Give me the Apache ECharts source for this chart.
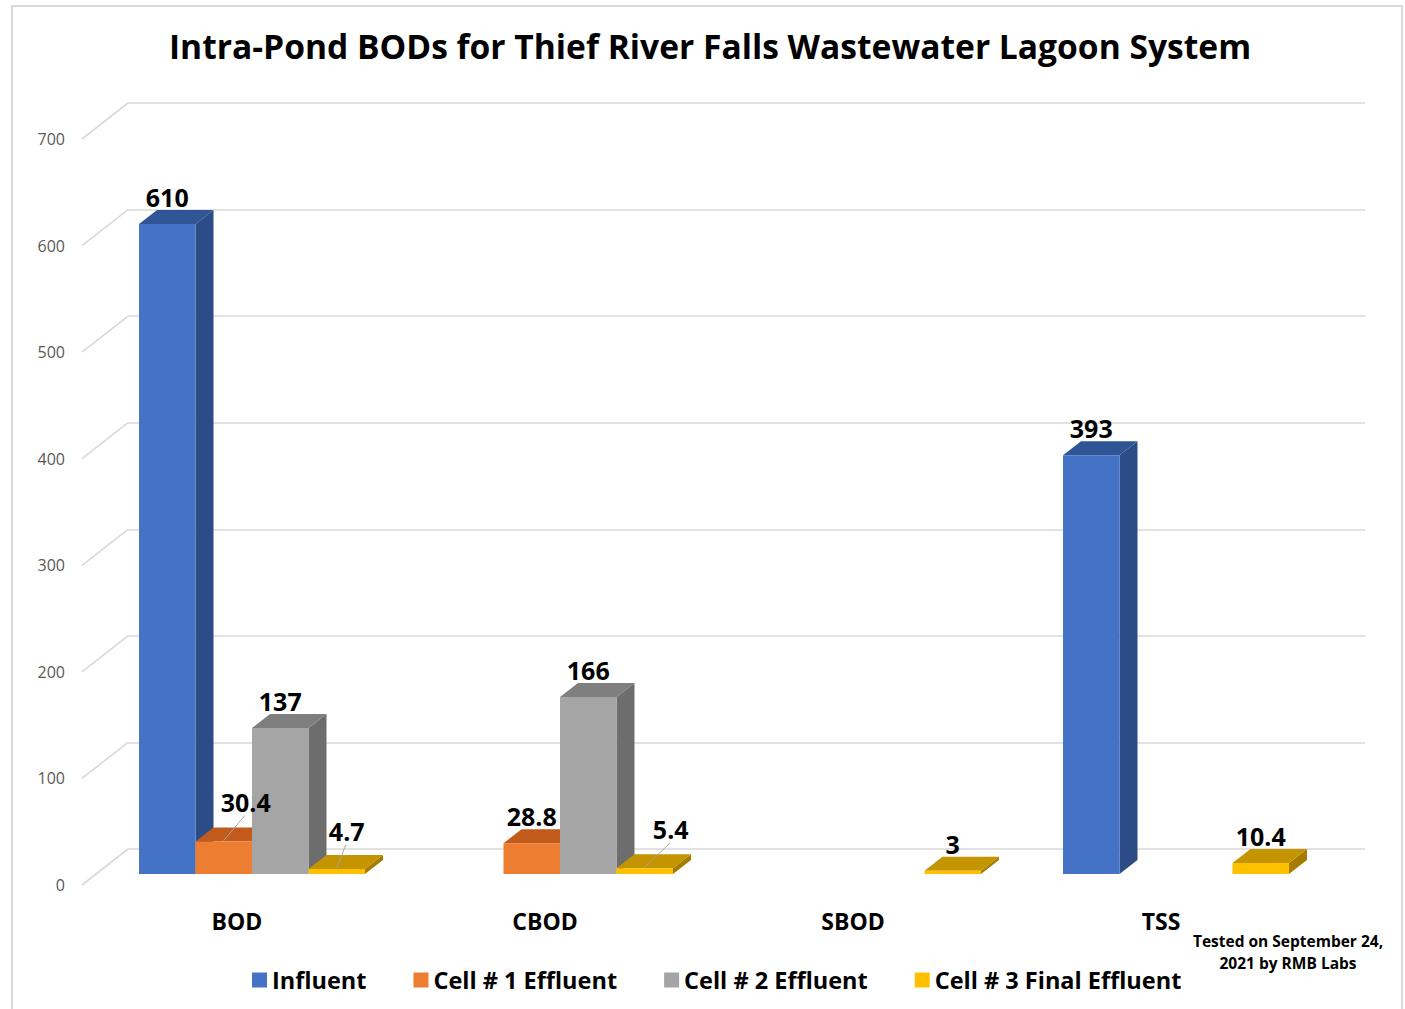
<!DOCTYPE html>
<html>
<head>
<meta charset="utf-8">
<script src="https://cdn.jsdelivr.net/npm/echarts@6/dist/echarts.min.js"></script>
<style>
html,body{margin:0;padding:0;background:#fff;}
#chart{width:1405px;height:1009px;}
</style>
</head>
<body>
<div id="chart"></div>
<script>
// ---------- data ----------
const categories = ['BOD', 'CBOD', 'SBOD', 'TSS'];
const seriesNames = ['Influent', 'Cell # 1 Effluent', 'Cell # 2 Effluent', 'Cell # 3 Final Effluent'];
const influent = [610, null, null, 393];
const cell1Effluent = [30.4, 28.8, null, null];
const cell2Effluent = [137, 166, null, null];
const cell3FinalEffluent = [4.7, 5.4, 3, 10.4];
const yTicks = [0, 100, 200, 300, 400, 500, 600, 700];
const titleText = 'Intra-Pond BODs for Thief River Falls Wastewater Lagoon System';
const noteText = 'Tested on September 24,\n2021 by RMB Labs';

// ---------- styles ----------
const FONT = '"Open Sans", "Liberation Sans", sans-serif';
const palette = [
  { front: '#4472C4', top: '#2F5597', side: '#2C4C87' },
  { front: '#ED7D31', top: '#C25A1C', side: '#A9541D' },
  { front: '#A5A5A5', top: '#7F7F7F', side: '#6D6D6D' },
  { front: '#FFC000', top: '#C49500', side: '#A67C00' }
];
const DEPTH_X = 18, DEPTH_Y = 14;      // oblique depth of each bar
const BAR_FRACTION = 0.1834;           // bar face width / category band
// label nudges for small bars (seriesIdx_catIdx) -> drawn with leader line
const labelNudge = { '1_0': [22, -13], '3_0': [10, -11], '3_1': [26, -12] };

const seriesData = [influent, cell1Effluent, cell2Effluent, cell3FinalEffluent];

function makeBarRenderer(s) {
  return function (params, api) {
    const cat = api.value(0);
    const v = api.value(1);
    if (v === null || v === undefined || isNaN(v)) return;
    const band = api.size([1, 0])[0];
    const w = band * BAR_FRACTION;
    const c = api.coord([cat, 0]);
    const t = api.coord([cat, v]);
    const base = c[1], top = t[1];
    const x0 = c[0] + (s - 2) * w;
    const col = palette[s];
    const zb = s * 3;
    const children = [
      { type: 'polygon', z2: zb, shape: { points: [[x0 + w, top], [x0 + w + DEPTH_X, top - DEPTH_Y], [x0 + w + DEPTH_X, base - DEPTH_Y], [x0 + w, base]] }, style: { fill: col.side } },
      { type: 'polygon', z2: zb + 1, shape: { points: [[x0, top], [x0 + w, top], [x0 + w + DEPTH_X, top - DEPTH_Y], [x0 + DEPTH_X, top - DEPTH_Y]] }, style: { fill: col.top } },
      { type: 'rect', z2: zb + 2, shape: { x: x0, y: top, width: w, height: base - top }, style: { fill: col.front } }
    ];
    let lx = x0 + w / 2, ly = top - DEPTH_Y - 13;
    const nudge = labelNudge[s + '_' + cat];
    if (nudge) {
      lx += nudge[0]; ly += nudge[1];
      children.push({ type: 'line', z2: 90, shape: { x1: x0 + w / 2, y1: top - 1, x2: lx - 1, y2: ly + 14 }, style: { stroke: '#A6A6A6', lineWidth: 1 } });
    }
    children.push({
      type: 'text', z2: 100,
      style: { text: String(v), x: lx, y: ly, textAlign: 'center', textVerticalAlign: 'middle', font: 'bold 25px ' + FONT, fill: '#000' }
    });
    return { type: 'group', children: children };
  };
}

const barSeries = seriesData.map(function (arr, s) {
  return {
    name: seriesNames[s],
    type: 'custom',
    xAxisIndex: 1, yAxisIndex: 1,
    itemStyle: { color: palette[s].front },
    renderItem: makeBarRenderer(s),
    encode: { x: 0, y: 1 },
    data: arr.map(function (v, i) { return [i, v === null ? NaN : v]; }),
    z: 3
  };
});

const diagonalSeries = {
  name: 'floorDiagonals',
  type: 'custom',
  xAxisIndex: 0, yAxisIndex: 0,
  silent: true,
  renderItem: function (params, api) {
    const p = api.coord([0, api.value(1)]);
    return { type: 'line', shape: { x1: p[0], y1: p[1], x2: p[0] - 46, y2: p[1] + 36 }, style: { stroke: '#D9D9D9', lineWidth: 1.6 } };
  },
  encode: { x: 0, y: 1 },
  data: yTicks.map(function (v) { return [0, v]; }),
  z: 1
};

const chart = echarts.init(document.getElementById('chart'), null, { renderer: 'svg' });
chart.setOption({
  backgroundColor: '#fff',
  animation: false,
  title: {
    text: titleText, left: 164, top: 24,
    textStyle: { fontFamily: FONT, fontWeight: 'bold', fontSize: 33.6, color: '#000' }
  },
  legend: {
    data: seriesNames, left: 247, top: 963,
    icon: 'rect', itemWidth: 15, itemHeight: 15, itemGap: 47,
    textStyle: { fontFamily: FONT, fontWeight: 'bold', fontSize: 23.5, color: '#000' }
  },
  graphic: [
    { type: 'rect', shape: { x: 12, y: 6, width: 1390, height: 1010 }, style: { fill: 'none', stroke: '#D9D9D9', lineWidth: 2 }, z: -1 },
    { type: 'text', x: 1288, y: 930, style: { text: noteText, textAlign: 'center', font: 'bold 15.5px ' + FONT, fill: '#000', lineHeight: 22 } }
  ],
  grid: [
    { left: 128, right: 40, top: 103, bottom: 160 },
    { left: 98, right: 75, top: 128, bottom: 135 },
    { left: 85, right: 40, top: 139, bottom: 124 }
  ],
  xAxis: [
    { gridIndex: 0, type: 'value', min: 0, max: 1, show: false },
    { gridIndex: 1, type: 'category', data: categories,
      axisLine: { show: false }, axisTick: { show: false },
      axisLabel: { margin: 35, padding: [0, 30, 0, 0], fontFamily: FONT, fontWeight: 'bold', fontSize: 23, color: '#000' } },
    { gridIndex: 2, type: 'category', data: categories, show: false }
  ],
  yAxis: [
    { gridIndex: 0, type: 'value', min: 0, max: 700, interval: 100,
      axisLine: { show: false }, axisTick: { show: false }, axisLabel: { show: false },
      splitLine: { lineStyle: { color: '#D9D9D9', width: 1.6 } } },
    { gridIndex: 1, type: 'value', min: 0, max: 700, interval: 100, show: false, splitLine: { show: false } },
    { gridIndex: 2, type: 'value', min: 0, max: 700, interval: 100,
      axisLine: { show: false }, axisTick: { show: false }, splitLine: { show: false },
      axisLabel: { margin: 20, fontFamily: FONT, fontSize: 16, color: '#595959' } }
  ],
  series: [diagonalSeries].concat(barSeries)
});
</script>
</body>
</html>
